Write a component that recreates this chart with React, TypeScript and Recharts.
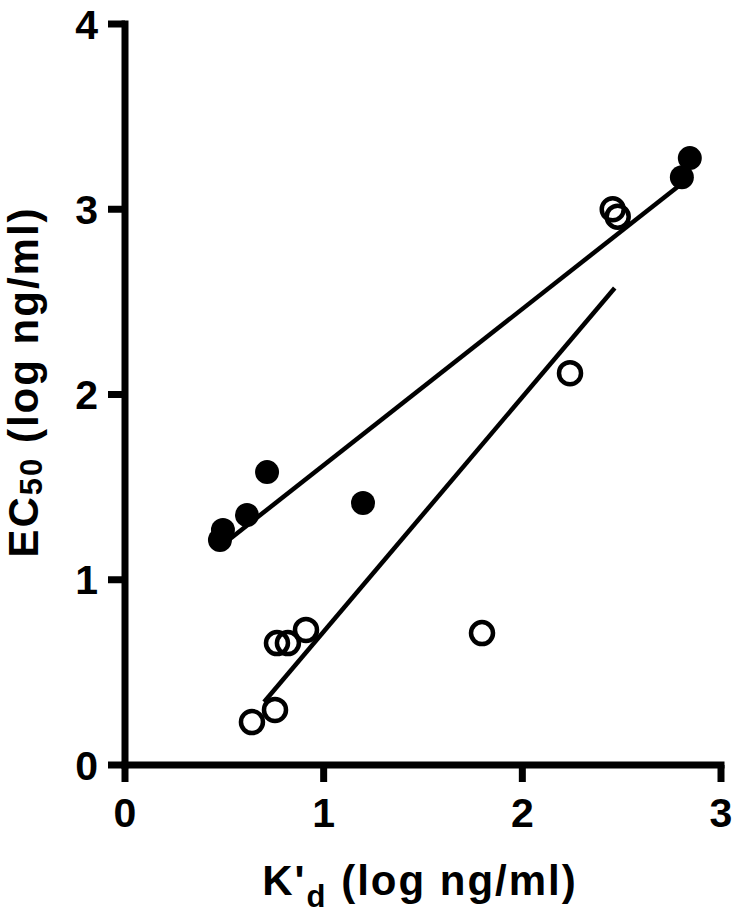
import { Scatter, ScatterChart, XAxis, YAxis } from "recharts";

// K'd (log ng/ml) vs EC50 (log ng/ml)
const filledX = [0.478, 0.493, 0.614, 0.715, 1.198, 2.803, 2.843];
const filledY = [1.214, 1.268, 1.349, 1.581, 1.414, 3.173, 3.276];
const openX = [0.639, 0.755, 0.765, 0.82, 0.911, 1.797, 2.24, 2.455, 2.48];
const openY = [0.232, 0.297, 0.658, 0.658, 0.729, 0.712, 2.115, 3.0, 2.96];

// regression line end points
const filledFitX = [0.48, 2.84];
const filledFitY = [1.18, 3.17];
const openFitX = [0.7, 2.465];
const openFitY = [0.34, 2.575];

const xTicks = [0, 1, 2, 3];
const yTicks = [0, 1, 2, 3, 4];

const toPoints = (xs: number[], ys: number[]) => xs.map((x, i) => ({ x, y: ys[i] }));

const FONT = "'Liberation Sans', Arial, sans-serif";
const axisStyle = { stroke: "#000", strokeWidth: 7, strokeLinecap: "square" as const };
const tickStyle = { fontFamily: FONT, fontSize: 41, fontWeight: 700, fill: "#000" };

const FilledDot = (p: any) => <circle cx={p.cx} cy={p.cy} r={12} fill="#000" />;
const OpenDot = (p: any) => (
  <circle cx={p.cx} cy={p.cy} r={11} fill="none" stroke="#000" strokeWidth={4.5} />
);
const NoDot = () => null;

export default function App() {
  return (
    <div style={{ position: "absolute", left: 0, top: 0, background: "#fff" }}>
      <ScatterChart width={733} height={920} margin={{ top: 24, right: 12, bottom: 0, left: 0 }}>
        <XAxis
          type="number"
          dataKey="x"
          domain={[0, 3]}
          ticks={xTicks}
          height={155}
          axisLine={axisStyle}
          tickLine={{ stroke: "#000", strokeWidth: 7 }}
          tickSize={17}
          tickMargin={16}
          tick={tickStyle}
          allowDataOverflow
          label={{
            content: () => (
              <text
                x={420}
                y={895}
                textAnchor="middle"
                fontFamily={FONT}
                fontSize={42}
                fontWeight={700}
                letterSpacing={2}
                fill="#000"
              >
                K'
                <tspan fontSize={31} dy={12}>d</tspan>
                <tspan dy={-12}> (log ng/ml)</tspan>
              </text>
            ),
          }}
        />
        <YAxis
          type="number"
          dataKey="y"
          domain={[0, 4]}
          ticks={yTicks}
          width={125}
          axisLine={axisStyle}
          tickLine={{ stroke: "#000", strokeWidth: 7 }}
          tickSize={17}
          tickMargin={10}
          tick={tickStyle}
          allowDataOverflow
          label={{
            content: () => (
              <text
                x={0}
                y={0}
                transform="translate(38,382) rotate(-90)"
                textAnchor="middle"
                fontFamily={FONT}
                fontSize={42}
                fontWeight={700}
                letterSpacing={2}
                fill="#000"
              >
                EC
                <tspan fontSize={31} dy={4}>50</tspan>
                <tspan dy={-4}> (log ng/ml)</tspan>
              </text>
            ),
          }}
        />
        <Scatter
          data={toPoints(filledFitX, filledFitY)}
          line={{ stroke: "#000", strokeWidth: 4.5 }}
          shape={NoDot}
          isAnimationActive={false}
        />
        <Scatter
          data={toPoints(openFitX, openFitY)}
          line={{ stroke: "#000", strokeWidth: 4.5 }}
          shape={NoDot}
          isAnimationActive={false}
        />
        <Scatter data={toPoints(filledX, filledY)} shape={FilledDot} isAnimationActive={false} />
        <Scatter data={toPoints(openX, openY)} shape={OpenDot} isAnimationActive={false} />
      </ScatterChart>
    </div>
  );
}
